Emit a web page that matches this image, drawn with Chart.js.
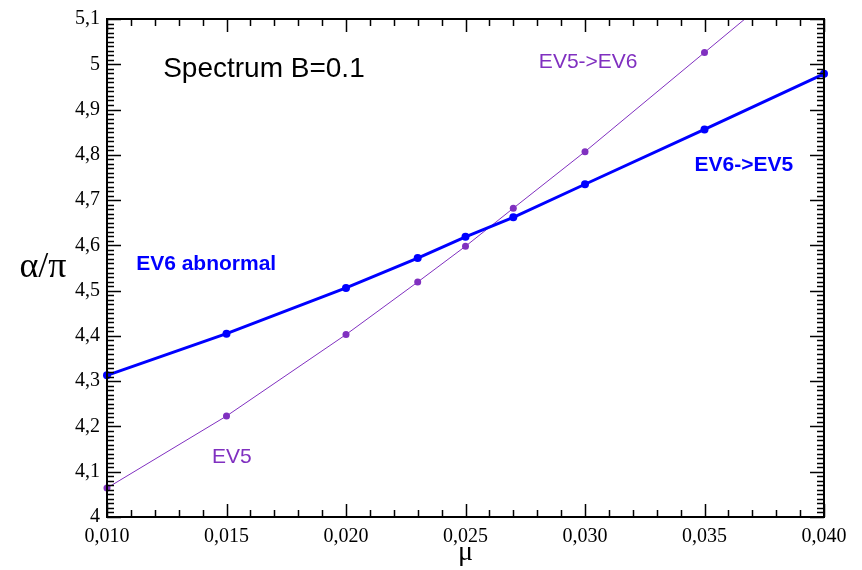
<!DOCTYPE html>
<html>
<head>
<meta charset="utf-8">
<script src="https://cdn.jsdelivr.net/npm/chart.js@4"></script>
<style>
  html, body { margin: 0; padding: 0; background: #fff; }
  #wrap { width: 862px; height: 570px; }
</style>
</head>
<body>
<div id="wrap"><canvas id="grafico" width="862" height="570"></canvas></div>
<script>
// mu values (x axis)
const muEV6 = [0.010, 0.015, 0.020, 0.023, 0.025, 0.027, 0.030, 0.035, 0.040];
const alphaEV6 = [4.313, 4.405, 4.506, 4.572, 4.619, 4.662, 4.735, 4.856, 4.979];

const muEV5 = [0.010, 0.015, 0.020, 0.023, 0.025, 0.027, 0.030, 0.035, 0.040];
const alphaEV5 = [4.064, 4.223, 4.403, 4.519, 4.598, 4.682, 4.807, 5.026, 5.245];

const xTicks = [0.010, 0.015, 0.020, 0.025, 0.030, 0.035, 0.040];
const yTicks = [4, 4.1, 4.2, 4.3, 4.4, 4.5, 4.6, 4.7, 4.8, 4.9, 5, 5.1];

const azul = 'rgb(0,0,255)';
const violeta = 'rgb(128,48,192)';

// textos dentro del grafico (coordenadas en unidades de los ejes)
const etiquetas = [
  { texto: 'Spectrum B=0.1', x: 0.01235, y: 4.99, color: '#000', font: '28px "Liberation Sans", Arial, sans-serif' },
  { texto: 'EV5->EV6', x: 0.02807, y: 5.005, color: violeta, font: '21px "Liberation Sans", Arial, sans-serif' },
  { texto: 'EV6->EV5', x: 0.03458, y: 4.778, color: azul, font: 'bold 21px "Liberation Sans", Arial, sans-serif' },
  { texto: 'EV6 abnormal', x: 0.01122, y: 4.558, color: azul, font: 'bold 21px "Liberation Sans", Arial, sans-serif' },
  { texto: 'EV5', x: 0.01439, y: 4.131, color: violeta, font: '21px "Liberation Sans", Arial, sans-serif' }
];

function puntos(xs, ys) {
  return xs.map((x, i) => ({ x: x, y: ys[i] }));
}

function formatoComa(v, dec) {
  return v.toFixed(dec).replace('.', ',');
}

// marco con marcas hacia adentro en los cuatro lados
const marcoPlugin = {
  id: 'marco',
  afterDatasetsDraw(chart) {
    const ctx = chart.ctx;
    const a = chart.chartArea;
    const sx = chart.scales.x;
    const sy = chart.scales.y;
    ctx.save();
    ctx.strokeStyle = '#000';
    ctx.lineWidth = 1.5;
    ctx.beginPath();
    // eje x: menores cada 0.001, mayores cada 0.005
    for (let i = 10; i <= 40; i++) {
      const px = Math.round(sx.getPixelForValue(i / 1000)) + 0.5;
      const largo = (i % 5 === 0) ? 13 : 7;
      ctx.moveTo(px, a.bottom); ctx.lineTo(px, a.bottom - largo);
      ctx.moveTo(px, a.top); ctx.lineTo(px, a.top + largo);
    }
    // eje y: menores cada 0.01, mayores cada 0.1
    for (let j = 400; j <= 510; j++) {
      const py = Math.round(sy.getPixelForValue(j / 100)) + 0.5;
      const largo = (j % 10 === 0) ? 14 : 7;
      ctx.moveTo(a.left, py); ctx.lineTo(a.left + largo, py);
      ctx.moveTo(a.right, py); ctx.lineTo(a.right - largo, py);
    }
    ctx.stroke();
    ctx.lineWidth = 2;
    ctx.strokeRect(a.left, a.top, a.right - a.left, a.bottom - a.top);

    // textos
    ctx.textBaseline = 'middle';
    ctx.textAlign = 'left';
    etiquetas.forEach(e => {
      ctx.font = e.font;
      ctx.fillStyle = e.color;
      ctx.fillText(e.texto, sx.getPixelForValue(e.x), sy.getPixelForValue(e.y));
    });

    // titulos de los ejes
    ctx.fillStyle = '#000';
    ctx.textAlign = 'center';
    ctx.textBaseline = 'alphabetic';
    ctx.font = '36px "Liberation Serif", "Times New Roman", serif';
    ctx.fillText('\u03b1/\u03c0', 43, 277);
    ctx.font = '28px "Liberation Serif", "Times New Roman", serif';
    ctx.fillText('\u03bc', (a.left + a.right) / 2, 560);
    ctx.restore();
  }
};

const config = {
  type: 'line',
  data: {
    datasets: [
      {
        label: 'EV6',
        data: puntos(muEV6, alphaEV6),
        borderColor: azul,
        backgroundColor: azul,
        borderWidth: 3,
        pointRadius: 4,
        pointBorderWidth: 0,
        clip: 6
      },
      {
        label: 'EV5',
        data: puntos(muEV5, alphaEV5),
        borderColor: violeta,
        backgroundColor: violeta,
        borderWidth: 1,
        pointRadius: 3.5,
        pointBorderWidth: 0,
        clip: { left: 6, top: 0, right: 6, bottom: 6 }
      }
    ]
  },
  options: {
    responsive: false,
    animation: false,
    layout: { padding: { left: 0, top: 17, right: 38, bottom: 0 } },
    plugins: { legend: { display: false }, tooltip: { enabled: false } },
    scales: {
      x: {
        type: 'linear',
        min: 0.010,
        max: 0.040,
        afterBuildTicks: s => { s.ticks = xTicks.map(v => ({ value: v })); },
        afterFit: s => { s.height = 53; },
        grid: { display: false, drawTicks: false },
        border: { display: false },
        ticks: {
          color: '#000',
          padding: 8,
          maxRotation: 0,
          font: { family: '"Liberation Serif", "Times New Roman", serif', size: 20 },
          callback: v => formatoComa(v, 3)
        }
      },
      y: {
        type: 'linear',
        min: 4,
        max: 5.1,
        afterBuildTicks: s => { s.ticks = yTicks.map(v => ({ value: v })); },
        afterFit: s => { s.width = 107; },
        grid: { display: false, drawTicks: false },
        border: { display: false },
        ticks: {
          color: '#000',
          padding: 7,
          font: { family: '"Liberation Serif", "Times New Roman", serif', size: 20 },
          callback: v => (Math.abs(v - Math.round(v)) < 1e-9 ? String(Math.round(v)) : formatoComa(v, 1))
        }
      }
    }
  },
  plugins: [marcoPlugin]
};

new Chart(document.getElementById('grafico'), config);
</script>
</body>
</html>
